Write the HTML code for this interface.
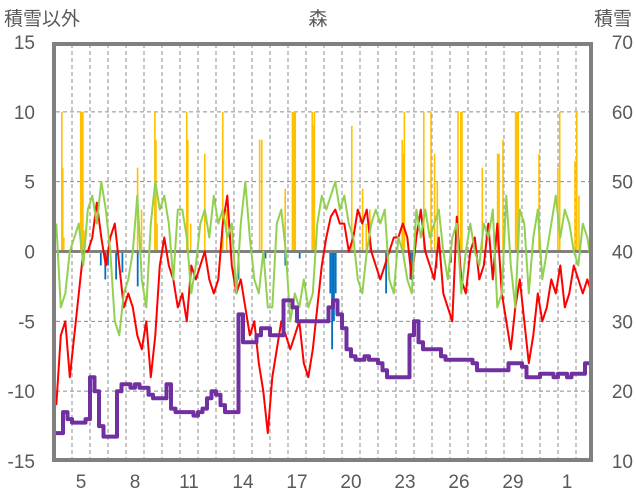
<!DOCTYPE html>
<html><head><meta charset="utf-8"><style>
body{margin:0;background:#fff;width:636px;height:501px;overflow:hidden}
svg{display:block;font-family:"Liberation Sans","Noto Sans CJK JP",sans-serif}
</style></head><body>
<svg id="chart" width="636" height="501" viewBox="0 0 636 501">
<text x="318" y="25" font-size="19" fill="#595959" text-anchor="middle">森</text>
<text x="4" y="25" font-size="19" fill="#595959">積雪以外</text>
<text x="632" y="25" font-size="19" fill="#595959" text-anchor="end">積雪</text>
<g id="grid"></g>
<g id="marks"></g>
<g id="axes"></g>
</svg>
<script>
const leftTicks=[15,10,5,0,-5,-10,-15];
const rightTicks=[70,60,50,40,30,20,10];
const dayLabels=["5","8","11","14","17","20","23","26","29","1"];
const dayLabelIdx=[1,4,7,10,13,16,19,22,25,28];
// samples every 0.25 day, starting day 4
const tempRed=[-11,-6,-5,-9,-6,-3,0,0,1,3.5,1,-1,1,2,-1,-4,-3,-4,-6,-7,-5,-9,-6,-1,1,-1,-2,-4,-3,-5,-1,-2,-1,0,-2,-3,-2,2,4,-1,-3,-2,-4,-6,-5,-8,-10,-13,-9,-7,-5,-6,-7,-6,-5,-8,-9,-7,-4,-1,1,2.5,3,2,2,0,1,3,2,3,0,-1,-2,-1,0,1,1,2,1,-2,1,3,0,-1,-2,1,-3,-4,-5,2.5,-2,-3,0,1,-2,-1,2,-2,2,-3,-5,-7,-4,-2,-5,-8,-6,-3,-5,-4,-2,-3,-1,-4,-3,-1,-2,-3,-2,-3];
const greenVals=[2,-4,-3,0,1,2,-1,3,4,2,5,3,0,-5,-6,-3,-2,0,4,-2,-4,2,5,3,4,2,-2,3,3,1,-3,-1,2,3,1,4,2,3,1,2,-3,2,5,1,-2,-3,0,-4,-4,2,3,0,-5,-3,-4,-2,-4,-3,2,4,3,4,5,3,4,2,1,-2,-3,0,2,3,2,3,-2,-3,1,0,-2,-3,3,1,3,1,2,3,0,-2,1,2,-3,0,2,0,-1,2,1,3,-4,-3,4,-1,-4,3,2,-3,1,3,-2,0,2,4,1,3,2,0,-1,2,1,-1];
const snowDepth=[14,14,17,16,15.5,15.5,15.5,16,22,20,15,13.5,13.5,13.5,20,21,21,20.5,21,20.5,20.5,19.5,19,19,19,21,17.5,17,17,17,17,16.5,17,17.5,19,20,19.5,18,17,17,17,31,27,27,27,28,29,29,28,28,28,33,33,32,30,30,30,30,30,30,30,32,33,31,29,26,25,24.5,24.5,25,24.5,24.5,24,23,22,22,22,22,22,28,30,27,26,26,26,26,25,24.5,24.5,24.5,24.5,24.5,24.5,24,23,23,23,23,23,23,23,24,24,24,23.5,22,22,22,22.5,22.5,22.5,22,22.5,22.5,22,22.5,22.5,22.5,24,24];
// bars: day offset (days from start of day 4) and value
const orangeDay=[0.39,0.44,0.5,1.44,1.5,1.56,1.62,4.6,4.82,5.56,5.62,5.68,7.33,7.39,7.55,8.33,9.33,9.55,11.38,11.5,12.8,13.2,13.28,13.36,14.3,14.36,14.42,16.5,17.1,17.3,17.5,19.3,19.36,19.42,20.5,20.9,21.1,21.25,22.4,22.55,22.62,23.75,24.6,24.68,24.9,25.6,25.68,25.75,26.9,27.95,28.05,28.9,29.0,29.12,30.0,30.25,31.5,31.6];
const orangeVal=[10,6,1,10,10,10,1.5,6,3,10,8,2,10,8,2,7,10,3,8,8,4.5,10,10,10,10,9,10,9,4.5,2,3,8,7,10,10,10,7,5,10,10,10,6,7,7,8,10,10,10,7,6,10,6.5,10,4,10,4,10,4];
const blueDay=[2.55,2.8,2.95,3.4,3.75,4.6,10.2,11.7,12.8,13.6,15.3,15.4,15.5,15.6,18.4,19.75,19.85,21.2,22.0];
const blueVal=[-1,-2,-1,-2,-1.5,-2.5,-2,-0.5,-1,-0.5,-3,-7,-5,-3,-3,-2,-1.5,-1.2,-0.8];

const NS="http://www.w3.org/2000/svg";
const X0=56,X1=589,Y0=44,Y1=460;
const xDay=d=>54+18*d;
const yL=v=>251.5-v*13.967;
const yR=v=>yL((v-40)/2);
const svg=document.getElementById('chart');
const grid=document.getElementById('grid'),marks=document.getElementById('marks'),axes=document.getElementById('axes');
function mk(tag,attrs,parent){const e=document.createElementNS(NS,tag);for(const k in attrs)e.setAttribute(k,attrs[k]);parent.appendChild(e);return e;}
const defs=mk('defs',{},svg);const cp=mk('clipPath',{id:'pc'},defs);mk('rect',{x:X0,y:Y0,width:X1-X0,height:Y1-Y0},cp);
marks.setAttribute('clip-path','url(#pc)');
leftTicks.forEach(v=>{if(v===15||v===-15||v===0)return;
 const l=mk('line',{x1:X0,x2:X1,y1:yL(v),y2:yL(v),stroke:'#8c8c8c','stroke-width':1,'stroke-dasharray':'4,3'},grid);
 
 });
for(let k=1;k<30;k++){const x=xDay(k);
 const l=mk('line',{x1:x,x2:x,y1:Y0,y2:Y1,stroke:'#8c8c8c','stroke-width':1,'stroke-dasharray':'4,3'},grid);
 
 }
orangeDay.forEach((d,i)=>{const v=orangeVal[i];
 const r=mk('rect',{x:xDay(d),y:yL(v),width:1.6,height:yL(0)-yL(v),fill:'#FFC000'},marks);
 
 });
blueDay.forEach((d,i)=>{const v=blueVal[i];
 const r=mk('rect',{x:xDay(d),y:yL(0),width:1.8,height:yL(v)-yL(0),fill:'#0070C0'},marks);
 
 });
const z=mk('line',{x1:X0,x2:X1,y1:yL(0),y2:yL(0),stroke:'#808080','stroke-width':3},marks);


function series(arr,yf,color,w,name){
 const pts=arr.map((v,i)=>xDay(0.125+i*0.25).toFixed(1)+','+yf(v).toFixed(1)).join(' ');
 const p=mk('polyline',{points:pts,fill:'none',stroke:color,'stroke-width':w,'stroke-linejoin':'round'},marks);
 
 }
series(tempRed,yL,'#FF0000',2,'red-series-line');
series(greenVals,yL,'#92D050',2,'green-series-line');
// snow depth as steps
(function(){let d='';snowDepth.forEach((v,i)=>{const xa=xDay(i*0.25),xb=xDay((i+1)*0.25),y=yR(v);
 d+=(i===0?'M':'L')+xa.toFixed(1)+','+y.toFixed(1)+'L'+xb.toFixed(1)+','+y.toFixed(1);});
 const p=mk('path',{d:d,fill:'none',stroke:'#7030A0','stroke-width':4,'stroke-linejoin':'round'},marks);
 
 })();
const fr=mk('rect',{x:54,y:44,width:537,height:416,fill:'none',stroke:'#808080','stroke-width':4},axes);


leftTicks.forEach(v=>{const t=mk('text',{x:35,y:yL(v)+7,'font-size':19,fill:'#595959','text-anchor':'end'},axes);t.textContent=v;
 
 });
rightTicks.forEach(v=>{const t=mk('text',{x:633,y:yR(v)+7,'font-size':19,fill:'#595959','text-anchor':'end'},axes);t.textContent=v;
 
 });
dayLabels.forEach((s,i)=>{const t=mk('text',{x:xDay(dayLabelIdx[i]+0.5),y:488,'font-size':19,fill:'#595959','text-anchor':'middle'},axes);t.textContent=s;
 
 });
</script>
</body></html>
